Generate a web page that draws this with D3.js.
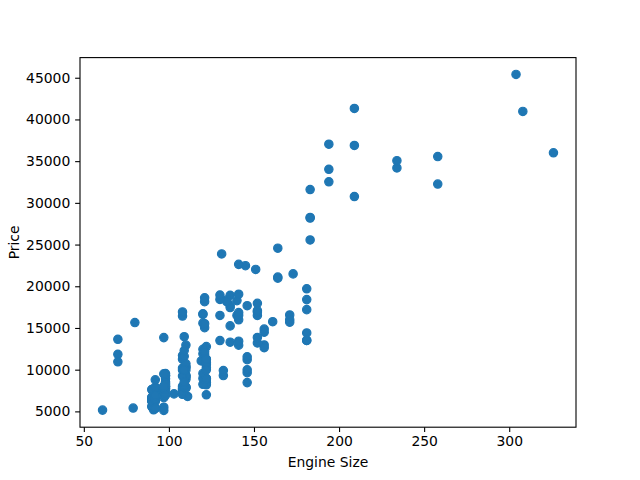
<!DOCTYPE html>
<html>
<head>
<meta charset="utf-8">
<script src="https://cdn.jsdelivr.net/npm/d3@7"></script>
<style>
  body { margin: 0; background: #fff; }
  svg { display: block; }
  text { font-family: "DejaVu Sans", sans-serif; }
</style>
</head>
<body>
<svg id="chart" width="640" height="480"></svg>
<script>
// engine size and price, rows with a missing price left out
var engineSize = [
    130,130,152,109,136,136,136,136,131,
    108,108,164,164,164,209,209,209,
    61,90,90,90,90,98,90,90,90,98,122,156,
    92,92,79,92,92,92,92,110,110,110,110,110,110,
    111,119,
    258,258,326,
    91,91,91,91,91,70,70,70,80,122,122,122,122,122,122,140,134,
    183,183,183,183,234,234,308,304,
    140,
    92,92,92,98,110,122,156,156,156,122,122,110,110,
    97,103,97,97,97,97,97,97,97,120,120,120,181,181,181,181,181,181,
    120,152,120,152,120,152,120,152,120,152,134,
    90,98,90,90,90,98,122,
    151,194,194,194,
    132,132,121,121,121,121,121,121,
    97,108,108,108,108,108,108,108,108,108,108,108,
    92,92,92,92,92,92,98,98,110,110,98,98,98,98,98,98,98,146,146,146,146,146,146,122,110,122,122,122,171,171,171,161,
    97,109,97,109,109,97,109,109,109,136,97,109,
    141,141,141,141,130,130,141,141,173,145,141
];

var price = [
    13495,16500,16500,13950,17450,15250,17710,18920,23875,
    16430,16925,20970,21105,24565,30760,41315,36880,
    5151,6295,6575,5572,6377,7957,6229,6692,7609,8558,8921,12964,
    6479,6855,5399,6529,7129,7295,7295,7895,9095,8845,10295,12945,10345,
    6785,11048,
    32250,35550,36000,
    5195,6095,6795,6695,7395,10945,11845,13645,15645,8845,8495,10595,10245,10795,11245,18280,18344,
    25552,28248,28176,31600,34184,35056,40960,45400,
    16503,
    5389,6189,6669,7689,9959,8499,12629,14869,14489,6989,8189,9279,9279,
    5499,7099,6649,6849,7349,7299,7799,7499,7999,8249,8949,9549,13499,14399,13499,17199,19699,18399,
    11900,13200,12440,13860,15580,16900,16695,17075,16630,17950,18150,
    5572,7957,6229,6692,7609,8921,12764,
    22018,32528,34028,37028,
    9295,9895,11850,12170,15040,15510,18150,18620,
    5118,7053,7603,7126,7775,9960,9233,11259,7463,10198,8013,11694,
    5348,6338,6488,6918,7898,8778,6938,7198,7898,7788,7738,8358,9258,8058,8238,9298,9538,8449,9639,9989,11199,11549,17669,8948,10698,9988,10898,11248,16558,15998,15690,15750,
    7775,7975,7995,8195,8495,9495,9995,11595,9980,13295,13845,12290,
    12940,13415,15985,16515,18420,18950,16845,19045,21485,22470,22625
];

var xTicks = [50, 100, 150, 200, 250, 300];
var yTicks = [5000, 10000, 15000, 20000, 25000, 30000, 35000, 40000, 45000];

var svg = d3.select("#chart"),
    margin = {top: 57.6, right: 64, bottom: 52.8, left: 80},
    width = svg.attr("width") - margin.left - margin.right,
    height = svg.attr("height") - margin.top - margin.bottom,
    g = svg.append("g").attr("transform", "translate(" + margin.left + "," + margin.top + ")");

var data = engineSize.map(function(d, i) { return {size: d, price: price[i]}; });

// matplotlib style 5% padding
function padded(ext) {
    var pad = (ext[1] - ext[0]) * 0.05;
    return [ext[0] - pad, ext[1] + pad];
}

var x = d3.scaleLinear()
    .domain(padded(d3.extent(engineSize)))
    .range([0, width]);

var y = d3.scaleLinear()
    .domain(padded(d3.extent(price)))
    .range([height, 0]);

g.selectAll(".dot")
    .data(data)
    .enter().append("circle")
    .attr("class", "dot")
    .attr("cx", function(d) { return x(d.size); })
    .attr("cy", function(d) { return y(d.price); })
    .attr("r", 4.17)
    .attr("fill", "#1f77b4")
    .attr("stroke", "#1f77b4")
    .attr("stroke-width", 1.2);

var xAxis = g.append("g")
    .attr("transform", "translate(0," + height + ")")
    .call(d3.axisBottom(x).tickValues(xTicks).tickSize(4.86).tickPadding(4.2).tickFormat(d3.format("d")));

var yAxis = g.append("g")
    .call(d3.axisLeft(y).tickValues(yTicks).tickSize(4.86).tickPadding(4.86).tickFormat(d3.format("d")));

[xAxis, yAxis].forEach(function(a) {
    a.select(".domain").remove();
    a.selectAll("line").attr("stroke", "#000").attr("stroke-width", 1.1);
    a.selectAll("text")
        .attr("fill", "#000")
        .style("font-family", "DejaVu Sans")
        .style("font-size", "13.9px");
});

g.append("rect")
    .attr("width", width)
    .attr("height", height)
    .attr("fill", "none")
    .attr("stroke", "#000")
    .attr("stroke-width", 1.1);

svg.append("text")
    .attr("x", margin.left + width / 2)
    .attr("y", 467)
    .attr("text-anchor", "middle")
    .style("font-size", "13.9px")
    .text("Engine Size");

svg.append("text")
    .attr("transform", "translate(18.5," + (margin.top + height / 2) + ") rotate(-90)")
    .attr("text-anchor", "middle")
    .style("font-size", "13.9px")
    .text("Price");
</script>
</body>
</html>
